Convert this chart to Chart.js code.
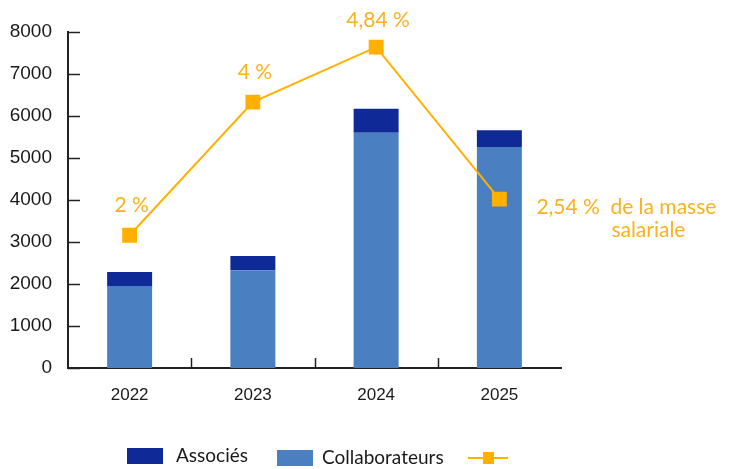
<!DOCTYPE html>
<html>
<head>
<meta charset="utf-8">
<script src="https://cdn.jsdelivr.net/npm/chart.js@4"></script>
<style>
  html, body { margin: 0; padding: 0; background: #fff; }
  #wrap { width: 736px; height: 469px; }
</style>
</head>
<body>
<div id="wrap"><canvas id="chart" width="736" height="469"></canvas></div>
<script>
const years = ['2022', '2023', '2024', '2025'];
const collaborateurs = [1950, 2330, 5600, 5260];
const associes = [335, 335, 570, 400];
const masseSalariale = [3160, 6330, 7640, 4020];
const pctLabels = ['2 %', '4 %', '4,84 %', '2,54 %'];
const yTicks = [0, 1000, 2000, 3000, 4000, 5000, 6000, 7000, 8000];

const ORANGE = '#ffb000';
const ORANGE_TXT = '#f7b21c';

// petits traits vers l'intérieur + étiquettes du %
const extras = {
    id: 'extras',
    afterDatasetsDraw(chart) {
        const ctx = chart.ctx;
        const x = chart.scales.x, y = chart.scales.y;
        const area = chart.chartArea;
        ctx.save();
        ctx.strokeStyle = '#222';
        ctx.lineWidth = 1.5;
        yTicks.forEach(v => {
            const py = Math.round(y.getPixelForValue(v)) + 0.5;
            ctx.beginPath();
            ctx.moveTo(area.left, py);
            ctx.lineTo(area.left + 12, py);
            ctx.stroke();
        });
        for (let i = 1; i < years.length; i++) {
            const px = Math.round((x.getPixelForValue(i - 1) + x.getPixelForValue(i)) / 2) + 0.5;
            ctx.beginPath();
            ctx.moveTo(px, area.bottom);
            ctx.lineTo(px, area.bottom - 10);
            ctx.stroke();
        }

        // étiquettes
        const meta = chart.getDatasetMeta(2);
        ctx.fillStyle = ORANGE_TXT;
        ctx.font = '21px Lato';
        ctx.textBaseline = 'middle';
        meta.data.forEach((pt, i) => {
            if (i === years.length - 1) {
                ctx.textAlign = 'left';
                ctx.fillText(pctLabels[i], pt.x + 37, pt.y + 8);
                ctx.fillText('de la masse', pt.x + 111, pt.y + 8);
                ctx.fillText('salariale', pt.x + 112, pt.y + 31);
            } else {
                ctx.textAlign = 'center';
                ctx.fillText(pctLabels[i], pt.x + 2, pt.y - (i === 2 ? 27 : 30));
            }
        });

        // légende
        ctx.font = '19px Lato';
        ctx.textAlign = 'left';
        ctx.fillStyle = '#0f2a97';
        ctx.fillRect(127, 448, 36, 16);
        ctx.fillStyle = '#4a80c2';
        ctx.fillRect(277, 450, 36, 16);
        ctx.fillStyle = '#1a1a1a';
        ctx.fillText('Associés', 176, 456);
        ctx.fillText('Collaborateurs', 322, 458);
        ctx.strokeStyle = ORANGE;
        ctx.lineWidth = 2;
        ctx.beginPath();
        ctx.moveTo(468, 458);
        ctx.lineTo(508, 458);
        ctx.stroke();
        ctx.fillStyle = ORANGE;
        ctx.fillRect(483, 452, 11, 12);
        ctx.restore();
    }
};

new Chart(document.getElementById('chart'), {
    data: {
        labels: years,
        datasets: [
            {
                type: 'bar',
                label: 'Collaborateurs',
                data: collaborateurs,
                backgroundColor: '#4a80c2',
                stack: 's',
                order: 2
            },
            {
                type: 'bar',
                label: 'Associés',
                data: associes,
                backgroundColor: '#0f2a97',
                stack: 's',
                order: 2
            },
            {
                type: 'line',
                label: '',
                data: masseSalariale,
                borderColor: ORANGE,
                backgroundColor: ORANGE,
                borderWidth: 2,
                pointStyle: 'rect',
                pointRadius: 10.5,
                pointHoverRadius: 10.5,
                pointBorderWidth: 0,
                tension: 0,
                order: 1
            }
        ]
    },
    options: {
        responsive: false,
        animation: false,
        events: [],
        layout: { padding: { top: 32, right: 175, left: 0, bottom: 0 } },
        datasets: {
            bar: { categoryPercentage: 1, barPercentage: 0.365 }
        },
        plugins: {
            legend: { display: false },
            tooltip: { enabled: false }
        },
        scales: {
            x: {
                stacked: true,
                grid: { display: false },
                border: { display: true, color: '#222', width: 2 },
                ticks: { color: '#1a1a1a', font: { family: 'Liberation Sans', size: 17 }, padding: 9 },
                afterFit: s => { s.height = 101; }
            },
            y: {
                stacked: true,
                min: 0,
                max: 8000,
                grid: { display: false },
                border: { display: true, color: '#222', width: 2 },
                afterBuildTicks: s => { s.ticks = yTicks.map(v => ({ value: v })); },
                ticks: {
                    color: '#1a1a1a',
                    font: { family: 'Liberation Sans', size: 19 },
                    padding: 8,
                    callback: v => String(v)
                },
                afterFit: s => { s.width = 68; }
            }
        }
    },
    plugins: [extras]
});
</script>
</body>
</html>
